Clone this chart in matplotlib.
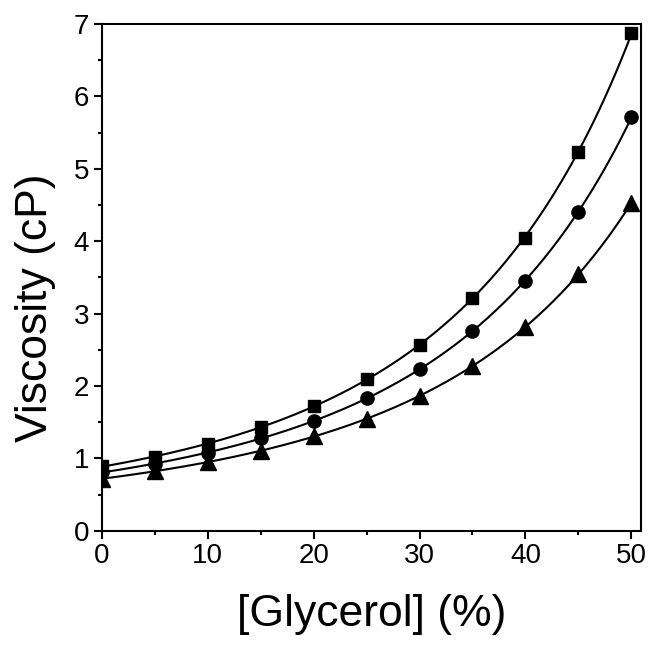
import numpy as np
import matplotlib
matplotlib.use('Agg')
import matplotlib.pyplot as plt
from matplotlib.ticker import MultipleLocator

plt.rcParams['font.family'] = ['Liberation Sans', 'DejaVu Sans']

glycerol = [0, 5, 10, 15, 20, 25, 30, 35, 40, 45, 50]
visc_square = [0.89, 1.02, 1.20, 1.43, 1.73, 2.09, 2.57, 3.21, 4.05, 5.23, 6.88]
visc_circle = [0.81, 0.92, 1.08, 1.28, 1.52, 1.83, 2.23, 2.76, 3.45, 4.40, 5.72]
visc_triangle = [0.72, 0.82, 0.95, 1.10, 1.31, 1.55, 1.86, 2.27, 2.82, 3.54, 4.53]

fig = plt.figure(figsize=(6.52, 6.45), dpi=100)
ax = fig.add_axes([0.156, 0.177, 0.827, 0.786])

xs = np.linspace(0, 50, 200)
for ys, m, ms in [(visc_square, 's', 9), (visc_circle, 'o', 9.5), (visc_triangle, '^', 11)]:
    # smooth fit curve through the points
    coef = np.polyfit(glycerol, np.log(ys), 3)
    ax.plot(xs, np.exp(np.polyval(coef, xs)), color='black', linewidth=1.5, zorder=2)
    ax.plot(glycerol, ys, linestyle='none', marker=m, markersize=ms, color='black', zorder=3)

ax.set_xlim(0, 50.9)
ax.set_ylim(0, 7)
ax.xaxis.set_major_locator(MultipleLocator(10))
ax.xaxis.set_minor_locator(MultipleLocator(5))
ax.yaxis.set_major_locator(MultipleLocator(1))
ax.yaxis.set_minor_locator(MultipleLocator(0.5))
ax.tick_params(which='major', direction='out', length=6, width=1.5, labelsize=20, pad=3)
ax.tick_params(which='minor', direction='out', length=3, width=1.5)
for s in ax.spines.values():
    s.set_linewidth(1.5)

ax.set_xlabel('[Glycerol] (%)', fontsize=32, labelpad=18)
ax.set_ylabel('Viscosity (cP)', fontsize=32)
ax.yaxis.set_label_coords(-0.085, 0.44)

fig.savefig('out.png', dpi=100)
